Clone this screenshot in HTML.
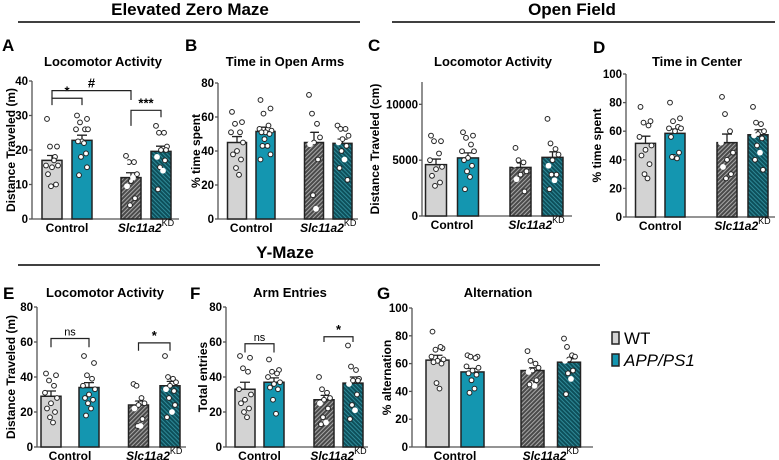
<!DOCTYPE html>
<html><head><meta charset="utf-8"><style>
html,body{margin:0;padding:0;background:#fff}
svg{display:block;font-family:"Liberation Sans",Arial,sans-serif}
</style></head><body>
<svg id="fig" width="779" height="460" viewBox="0 0 779 460" xmlns="http://www.w3.org/2000/svg">
<defs>
<pattern id="hatchGray" patternUnits="userSpaceOnUse" width="3" height="3" patternTransform="rotate(45)">
<rect width="3" height="3" fill="#4a4a4a"/><rect width="1" height="3" fill="#a8a8a8"/></pattern>
<pattern id="hatchTeal" patternUnits="userSpaceOnUse" width="3" height="3" patternTransform="rotate(-45)">
<rect width="3" height="3" fill="#0d4f5a"/><rect width="1" height="3" fill="#2f8a98"/></pattern>
</defs>
<g font-weight="bold" font-size="17" text-anchor="middle">
<text x="190" y="15">Elevated Zero Maze</text>
<line x1="18" y1="22" x2="360" y2="22" stroke="#000" stroke-width="1.5"/>
<text x="572" y="15">Open Field</text>
<line x1="392" y1="22" x2="775" y2="22" stroke="#000" stroke-width="1.5"/>
<text x="285" y="258">Y-Maze</text>
<line x1="18" y1="265" x2="600" y2="265" stroke="#000" stroke-width="1.5"/>
</g>
<g>
<rect x="612" y="332" width="7" height="12" fill="#d3d3d3" stroke="#222" stroke-width="1.5"/>
<text x="624" y="344" font-size="17">WT</text>
<rect x="612" y="354" width="7" height="12" fill="#1496b0" stroke="#222" stroke-width="1.5"/>
<text x="624" y="366" font-size="17" font-style="italic">APP/PS1</text>
</g>
</svg>
<script>
// ---- data arrays ----
const groups = ["Control", "Slc11a2"];
const genotypes = ["WT", "APP/PS1"];
// A: EZM locomotor (m)
const aMeans = [17, 22.8, 12, 19.6];
const aSem = [1.4, 1.5, 1.4, 1.5];
const aPts = [[29,21,21,18,15.5,15.5,15,13,10,9.5,17],[30,29,28,26,26,26,22.5,22.5,19,18,22,12.7,15],[18.3,16.5,16.5,16.5,16.5,13,11,9.5,6,4,12],[27,25,25,25,23,21,20,18,17,15,14,8.6,20]];
const aTicks = [0,10,20,30,40];
// B: time in open arms
const bMeans = [45, 51.5, 45, 44.5];
const bSem = [3.5, 2.5, 6, 2.5];
const bPts = [[63,57,56,51,51,45,40,38,35,30,26],[70,65,62,55,53,52,51,51,50,47,43,43,38,35],[73,63,62,56,52,48,45,44,35,14,6],[55,55,53,53,51,49,47,45,43,40,35,30,23]];
const bTicks = [0,20,40,60,80];
// C: OF locomotor (cm)
const cMeans = [4600, 5200, 4350, 5250];
const cSem = [500, 450, 400, 500];
const cPts = [[7200,6700,6700,5600,5000,4400,4200,3600,3000,2700],[7500,7200,7000,6400,5800,5800,5200,5000,4500,4000,3500,2400],[6100,6000,5000,4800,4600,4000,3700,3300,2200],[8700,8000,6500,6000,5800,5500,5000,4500,3700,3700,3200,2400]];
const cTicks = [0,5000,10000];
// D: time in center
const dMeans = [51.5, 58.5, 52, 57.5];
const dSem = [5, 3, 6, 3.5];
const dPts = [[77,67,66,64,56,50,47,43,37,30,27],[80,69,67,63,62,62,60,56,45,42,41,42],[84,82,72,60,52,45,40,35,30,27],[77,75,66,65,62,60,58,57,55,50,45,40,33]];
const dTicks = [0,20,40,60,80,100];
// E: Y-maze locomotor (m)
const eMeans = [29, 34, 24, 35];
const eSem = [3, 2.8, 2.3, 2.5];
const ePts = [[42,41,38,35,31,28,25,22,20,17,14],[52,48,41,39,35,33,30,28,27,25,22,18],[36,35,35,28,27,25,24,22,16,12,12],[52,51,40,39,38,37,35,33,32,28,20,17,24]];
const eTicks = [0,20,40,60,80];
// F: arm entries
const fMeans = [33, 37, 27, 36.5];
const fSem = [4, 2.5, 2.5, 3.5];
const fPts = [[52,51,45,43,33,30,27,25,22,20,17],[50,44,43,42,40,37,36,34,33,27,19],[40,37,33,31,30,28,27,25,22,17,14,13],[58,50,46,44,40,39,38,36,30,24,21,16,38]];
const fTicks = [0,20,40,60,80];
// G: alternation
const gMeans = [62.5, 54, 55, 61];
const gSem = [3.5, 2.5, 2, 2.5];
const gPts = [[83,71,70,72,65,63,62,61,60,46,42],[66,65,65,64,58,57,55,53,52,48,42,39],[69,64,62,60,58,57,55,54,48,46,44,45],[78,76,72,66,65,65,63,62,55,53,49,38]];
const gTicks = [0,20,40,60,80,100];

const NS = "http://www.w3.org/2000/svg";
const svg = document.getElementById("fig");
function mk(tag, attrs, parent) {
  const e = document.createElementNS(NS, tag);
  for (const k in attrs) e.setAttribute(k, attrs[k]);
  (parent || svg).appendChild(e);
  return e;
}
const fills = ["#d3d3d3", "#1496b0", "url(#hatchGray)", "url(#hatchTeal)"];
const jit = [-5, 5, -2, 3, -6, 6, 0, -4, 4, -1, 2, -3, 5, -5];

function panel(id, cfg, means, sem, pts, ticks) {
  const g = mk("g", {});
  
  
  const yS = v => cfg.y0 - (v / cfg.max) * (cfg.y0 - cfg.yTop);
  const L = mk("text", {x: cfg.lx, y: cfg.ly, "font-size": 17, "font-weight": "bold"}, g);
  L.textContent = id.toUpperCase();
  
  
  const T = mk("text", {x: cfg.tx, y: cfg.ty, "font-size": 13, "font-weight": "bold", "text-anchor": "middle"}, g);
  T.textContent = cfg.title;
  
  
  const ymid = (cfg.y0 + cfg.yTop) / 2;
  const YT = mk("text", {x: cfg.ytx, y: ymid, "font-size": 12, "font-weight": "bold", "text-anchor": "middle", transform: `rotate(-90 ${cfg.ytx} ${ymid})`}, g);
  YT.textContent = cfg.ylabel;
  
  
  const ya = mk("line", {x1: cfg.ax, y1: cfg.yTop, x2: cfg.ax, y2: cfg.y0, stroke: "#555", "stroke-width": 1.3}, g);
  
  
  const xa = mk("line", {x1: cfg.ax, y1: cfg.y0, x2: cfg.xend, y2: cfg.y0, stroke: "#555", "stroke-width": 1.3}, g);
  
  
  ticks.forEach(t => {
    const y = yS(t);
    const tl = mk("line", {x1: cfg.ax - 3, y1: y, x2: cfg.ax, y2: y, stroke: "#555", "stroke-width": 1.3}, g);
    
    
    const tt = mk("text", {x: cfg.ax - 4, y: y + 4, "font-size": 11.5, "font-weight": "bold", "text-anchor": "end"}, g);
    tt.textContent = t;
    
    
  });
  means.forEach((m, i) => {
    const cx = cfg.cx[i], w = cfg.bw;
    const bar = mk("rect", {x: cx - w / 2, y: yS(m), width: w, height: cfg.y0 - yS(m), fill: fills[i], stroke: "#222", "stroke-width": 1.5}, g);
    
    
    const e1 = yS(m + sem[i]);
    const eb = mk("path", {d: `M${cx} ${yS(m)}V${e1}M${cx - 5} ${e1}H${cx + 5}`, stroke: "#222", "stroke-width": 1.3, fill: "none"}, g);
    
    
    pts[i].forEach((v, j) => {
      const dark = i >= 2 && j % 3 === 1;
      const c = mk("circle", {cx: cx + jit[j % jit.length], cy: yS(v), r: 2.4, fill: "#fff", stroke: dark ? "#fff" : "#222", "stroke-width": 1}, g);
      
      
    });
  });
  [0, 1].forEach(k => {
    const x = (cfg.cx[2 * k] + cfg.cx[2 * k + 1]) / 2;
    const t = mk("text", {x: x, y: cfg.y0 + 13, "font-size": 12, "font-weight": "bold", "text-anchor": "middle"}, g);
    
    
    if (k === 0) t.textContent = groups[0];
    else {
      const s1 = mk("tspan", {"font-style": "italic"}, t); s1.textContent = groups[1];
      const s2 = mk("tspan", {"font-size": 9, "font-weight": "normal", dy: -6}, t); s2.textContent = "KD";
    }
  });
  (cfg.brackets || []).forEach(b => {
    const x1 = cfg.cx[b.a], x2 = cfg.cx[b.b], yh = yS(b.h);
    const p = mk("path", {d: `M${x1} ${yS(b.l)}V${yh}H${x2}V${yS(b.r)}`, stroke: "#222", "stroke-width": 1.2, fill: "none"}, g);
    
    
    const t = mk("text", {x: (x1 + x2) / 2, y: yh - 3, "font-size": b.s === "ns" ? 11 : 13, "font-weight": b.s === "ns" ? "normal" : "bold", "text-anchor": "middle"}, g);
    t.textContent = b.s;
    
    
  });
}

panel("a", {lx: 2, ly: 51, tx: 103, ty: 66, title: "Locomotor Activity", ytx: 15, ylabel: "Distance Traveled (m)", ax: 32, y0: 219, yTop: 81, max: 40, xend: 179, cx: [52, 82, 131, 161], bw: 20,
  brackets: [{a: 0, b: 1, h: 35, l: 33, r: 33, s: "*"}, {a: 0, b: 2, h: 37.2, l: 35, r: 34.5, s: "#"}, {a: 2, b: 3, h: 31.5, l: 27, r: 29.5, s: "***"}]}, aMeans, aSem, aPts, aTicks);
panel("b", {lx: 185, ly: 51, tx: 285, ty: 66, title: "Time in Open Arms", ytx: 200, ylabel: "% time spent", ax: 218, y0: 219, yTop: 83, max: 80, xend: 358, cx: [237, 265.5, 314, 342.5], bw: 19}, bMeans, bSem, bPts, bTicks);
panel("c", {lx: 368, ly: 51, tx: 493, ty: 66, title: "Locomotor Activity", ytx: 379, ylabel: "Distance Traveled (cm)", ax: 422, y0: 216, yTop: 82, max: 12000, xend: 572, cx: [436, 468, 520.5, 552.5], bw: 21}, cMeans, cSem, cPts, cTicks);
panel("d", {lx: 593, ly: 53, tx: 697, ty: 66, title: "Time in Center", ytx: 601, ylabel: "% time spent", ax: 626, y0: 217, yTop: 74, max: 100, xend: 775, cx: [645.5, 675, 727, 758], bw: 20}, dMeans, dSem, dPts, dTicks);
panel("e", {lx: 3, ly: 299, tx: 105, ty: 297, title: "Locomotor Activity", ytx: 15, ylabel: "Distance Traveled (m)", ax: 37, y0: 447, yTop: 307, max: 80, xend: 186, cx: [51, 89, 138.5, 170], bw: 20,
  brackets: [{a: 0, b: 1, h: 62, l: 57, r: 57, s: "ns"}, {a: 2, b: 3, h: 59.5, l: 55, r: 55, s: "*"}]}, eMeans, eSem, ePts, eTicks);
panel("f", {lx: 190, ly: 299, tx: 290, ty: 297, title: "Arm Entries", ytx: 207, ylabel: "Total entries", ax: 226, y0: 447, yTop: 307, max: 80, xend: 368, cx: [245, 274, 324, 353], bw: 20,
  brackets: [{a: 0, b: 1, h: 59, l: 54, r: 54, s: "ns"}, {a: 2, b: 3, h: 63, l: 60, r: 60, s: "*"}]}, fMeans, fSem, fPts, fTicks);
panel("g", {lx: 377, ly: 299, tx: 498, ty: 297, title: "Alternation", ytx: 391, ylabel: "% alternation", ax: 412, y0: 447, yTop: 308, max: 100, xend: 593, cx: [437.5, 472.5, 532.5, 569], bw: 23}, gMeans, gSem, gPts, gTicks);
</script>
</body></html>
